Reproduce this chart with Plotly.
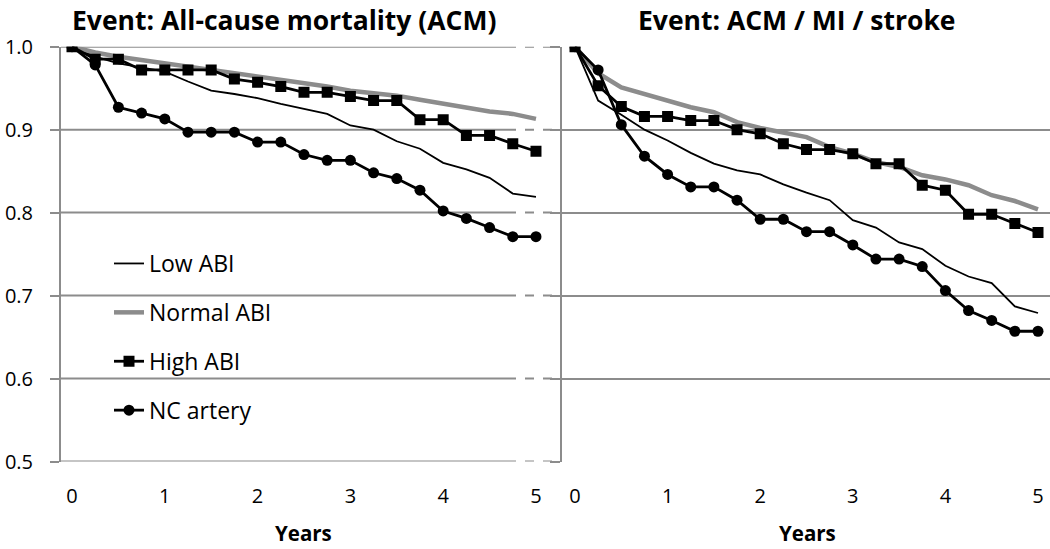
import plotly.graph_objects as go

years = [i * 0.25 for i in range(21)]

# Panel 1: All-cause mortality (ACM)
acm_low = [1.0, 0.988, 0.980, 0.975, 0.970, 0.958, 0.947, 0.943, 0.938, 0.931, 0.925,
           0.919, 0.905, 0.900, 0.886, 0.877, 0.860, 0.852, 0.842, 0.823, 0.819]
acm_normal = [1.0, 0.993, 0.988, 0.984, 0.980, 0.976, 0.973, 0.969, 0.964, 0.960, 0.957,
              0.952, 0.947, 0.944, 0.941, 0.936, 0.931, 0.926, 0.922, 0.919, 0.913]
acm_high = [1.0, 0.985, 0.985, 0.972, 0.972, 0.972, 0.972, 0.961, 0.957, 0.952, 0.945,
            0.945, 0.940, 0.935, 0.935, 0.912, 0.912, 0.893, 0.893, 0.883, 0.874]
acm_nc = [1.0, 0.978, 0.927, 0.920, 0.913, 0.897, 0.897, 0.897, 0.885, 0.885, 0.870,
          0.863, 0.863, 0.848, 0.841, 0.827, 0.802, 0.793, 0.782, 0.771, 0.771]

# Panel 2: ACM / MI / stroke
comp_low = [1.0, 0.935, 0.918, 0.900, 0.887, 0.872, 0.859, 0.851, 0.846, 0.834, 0.824,
            0.815, 0.791, 0.782, 0.764, 0.756, 0.736, 0.723, 0.715, 0.687, 0.679]
comp_normal = [1.0, 0.968, 0.951, 0.943, 0.936, 0.927, 0.921, 0.909, 0.902, 0.897, 0.891,
               0.879, 0.871, 0.861, 0.855, 0.845, 0.840, 0.833, 0.821, 0.814, 0.804]
comp_high = [1.0, 0.953, 0.928, 0.916, 0.916, 0.911, 0.911, 0.900, 0.895, 0.883, 0.876,
             0.876, 0.871, 0.859, 0.859, 0.833, 0.827, 0.798, 0.798, 0.787, 0.776]
comp_nc = [1.0, 0.972, 0.906, 0.868, 0.846, 0.831, 0.831, 0.815, 0.792, 0.792, 0.777,
           0.777, 0.761, 0.744, 0.744, 0.735, 0.706, 0.682, 0.670, 0.657, 0.657]

series_names = ["Low ABI", "Normal ABI", "High ABI", "NC artery"]
panel_titles = ["Event: All-cause mortality (ACM)", "Event: ACM / MI / stroke"]
x_ticks = [0, 1, 2, 3, 4, 5]
y_ticks = [0.5, 0.6, 0.7, 0.8, 0.9, 1.0]
y_tick_text = ["0.5", "0.6", "0.7", "0.8", "0.9", "1.0"]

FONT = "Open Sans"
GRID = "#8c8c8c"
W, H = 1050, 549

styles = [
    dict(mode="lines", line=dict(color="black", width=1.8)),
    dict(mode="lines", line=dict(color="#8c8c8c", width=4.5)),
    dict(mode="lines+markers", line=dict(color="black", width=2.8),
         marker=dict(symbol="square", size=11, color="black")),
    dict(mode="lines+markers", line=dict(color="black", width=2.8),
         marker=dict(symbol="circle", size=11, color="black")),
]

fig = go.Figure()
panels = [(acm_low, acm_normal, acm_high, acm_nc), (comp_low, comp_normal, comp_high, comp_nc)]
for p, data in enumerate(panels):
    xa = "x" if p == 0 else "x2"
    ya = "y" if p == 0 else "y2"
    for k, (name, vals) in enumerate(zip(series_names, data)):
        fig.add_trace(go.Scatter(x=years, y=vals, name=name, xaxis=xa, yaxis=ya,
                                 showlegend=(p == 0), legendgroup=name,
                                 **styles[k]))

def px_x(px):
    return px / W

def px_y(py):
    return 1 - py / H

ydom = [px_y(461.5), px_y(46.7)]

fig.update_layout(
    template="none",
    width=W, height=H, autosize=False,
    margin=dict(l=0, r=0, t=0, b=0, pad=0, autoexpand=False),
    plot_bgcolor="white", paper_bgcolor="white",
    font=dict(family=FONT, size=20, color="black"),
    xaxis=dict(domain=[px_x(61), px_x(555)], range=[-0.1185, 5.205], automargin=False,
               tickvals=x_ticks, showgrid=False, zeroline=False, showline=False,
               ticks="", ticklabelstandoff=20, tickfont=dict(size=20)),
    yaxis=dict(domain=ydom, range=[0.5, 1.0], tickvals=y_ticks, ticktext=y_tick_text,
               automargin=False,
               showgrid=False, zeroline=False, showline=True, linecolor=GRID, linewidth=2,
               ticks="outside", ticklen=9, tickcolor=GRID, tickwidth=2,
               ticklabelstandoff=13, tickfont=dict(size=20)),
    xaxis2=dict(domain=[px_x(562), 1.0], range=[-0.1404, 5.1296], anchor="y2",
                automargin=False,
                tickvals=x_ticks, showgrid=False, zeroline=False, showline=False,
                ticks="", ticklabelstandoff=20, tickfont=dict(size=20)),
    yaxis2=dict(domain=ydom, range=[0.5, 1.0], anchor="x2", tickvals=y_ticks,
                automargin=False,
                showticklabels=False, showgrid=True, gridcolor=GRID, gridwidth=2,
                zeroline=False, showline=True, linecolor=GRID, linewidth=2,
                ticks="outside", ticklen=10, tickcolor=GRID, tickwidth=2),
    legend=dict(x=px_x(109), y=px_y(242), xanchor="left", yanchor="top",
                bgcolor="rgba(0,0,0,0)", borderwidth=0, font=dict(family=FONT, size=23),
                traceorder="grouped", tracegroupgap=16),
    showlegend=True,
)

shapes = []
for yv in y_ticks:
    shapes.append(dict(type="line", xref="paper", yref="y", x0=px_x(61), x1=px_x(507),
                       y0=yv, y1=yv, line=dict(color=GRID, width=2), layer="below"))
    shapes.append(dict(type="line", xref="paper", yref="y", x0=px_x(507), x1=px_x(552),
                       y0=yv, y1=yv, line=dict(color=GRID, width=2, dash="dash"), layer="below"))
fig.update_layout(shapes=shapes)

annotations = [
    dict(text="<b>%s</b>" % panel_titles[0], x=px_x(284), y=1.0, xref="paper", yref="paper",
         showarrow=False, xanchor="center", yanchor="top", font=dict(size=26.5)),
    dict(text="<b>%s</b>" % panel_titles[1], x=px_x(796), y=1.0, xref="paper", yref="paper",
         showarrow=False, xanchor="center", yanchor="top", font=dict(size=26.5)),
    dict(text="<b>Years</b>", x=px_x(303), y=0.0, xref="paper", yref="paper",
         showarrow=False, xanchor="center", yanchor="bottom", font=dict(size=20.5)),
    dict(text="<b>Years</b>", x=px_x(807), y=0.0, xref="paper", yref="paper",
         showarrow=False, xanchor="center", yanchor="bottom", font=dict(size=20.5)),
]
fig.update_layout(annotations=annotations)

fig.write_html("out.html", config={"displayModeBar": False},
               post_script="document.body.style.margin='0';document.body.style.overflow='hidden';")
